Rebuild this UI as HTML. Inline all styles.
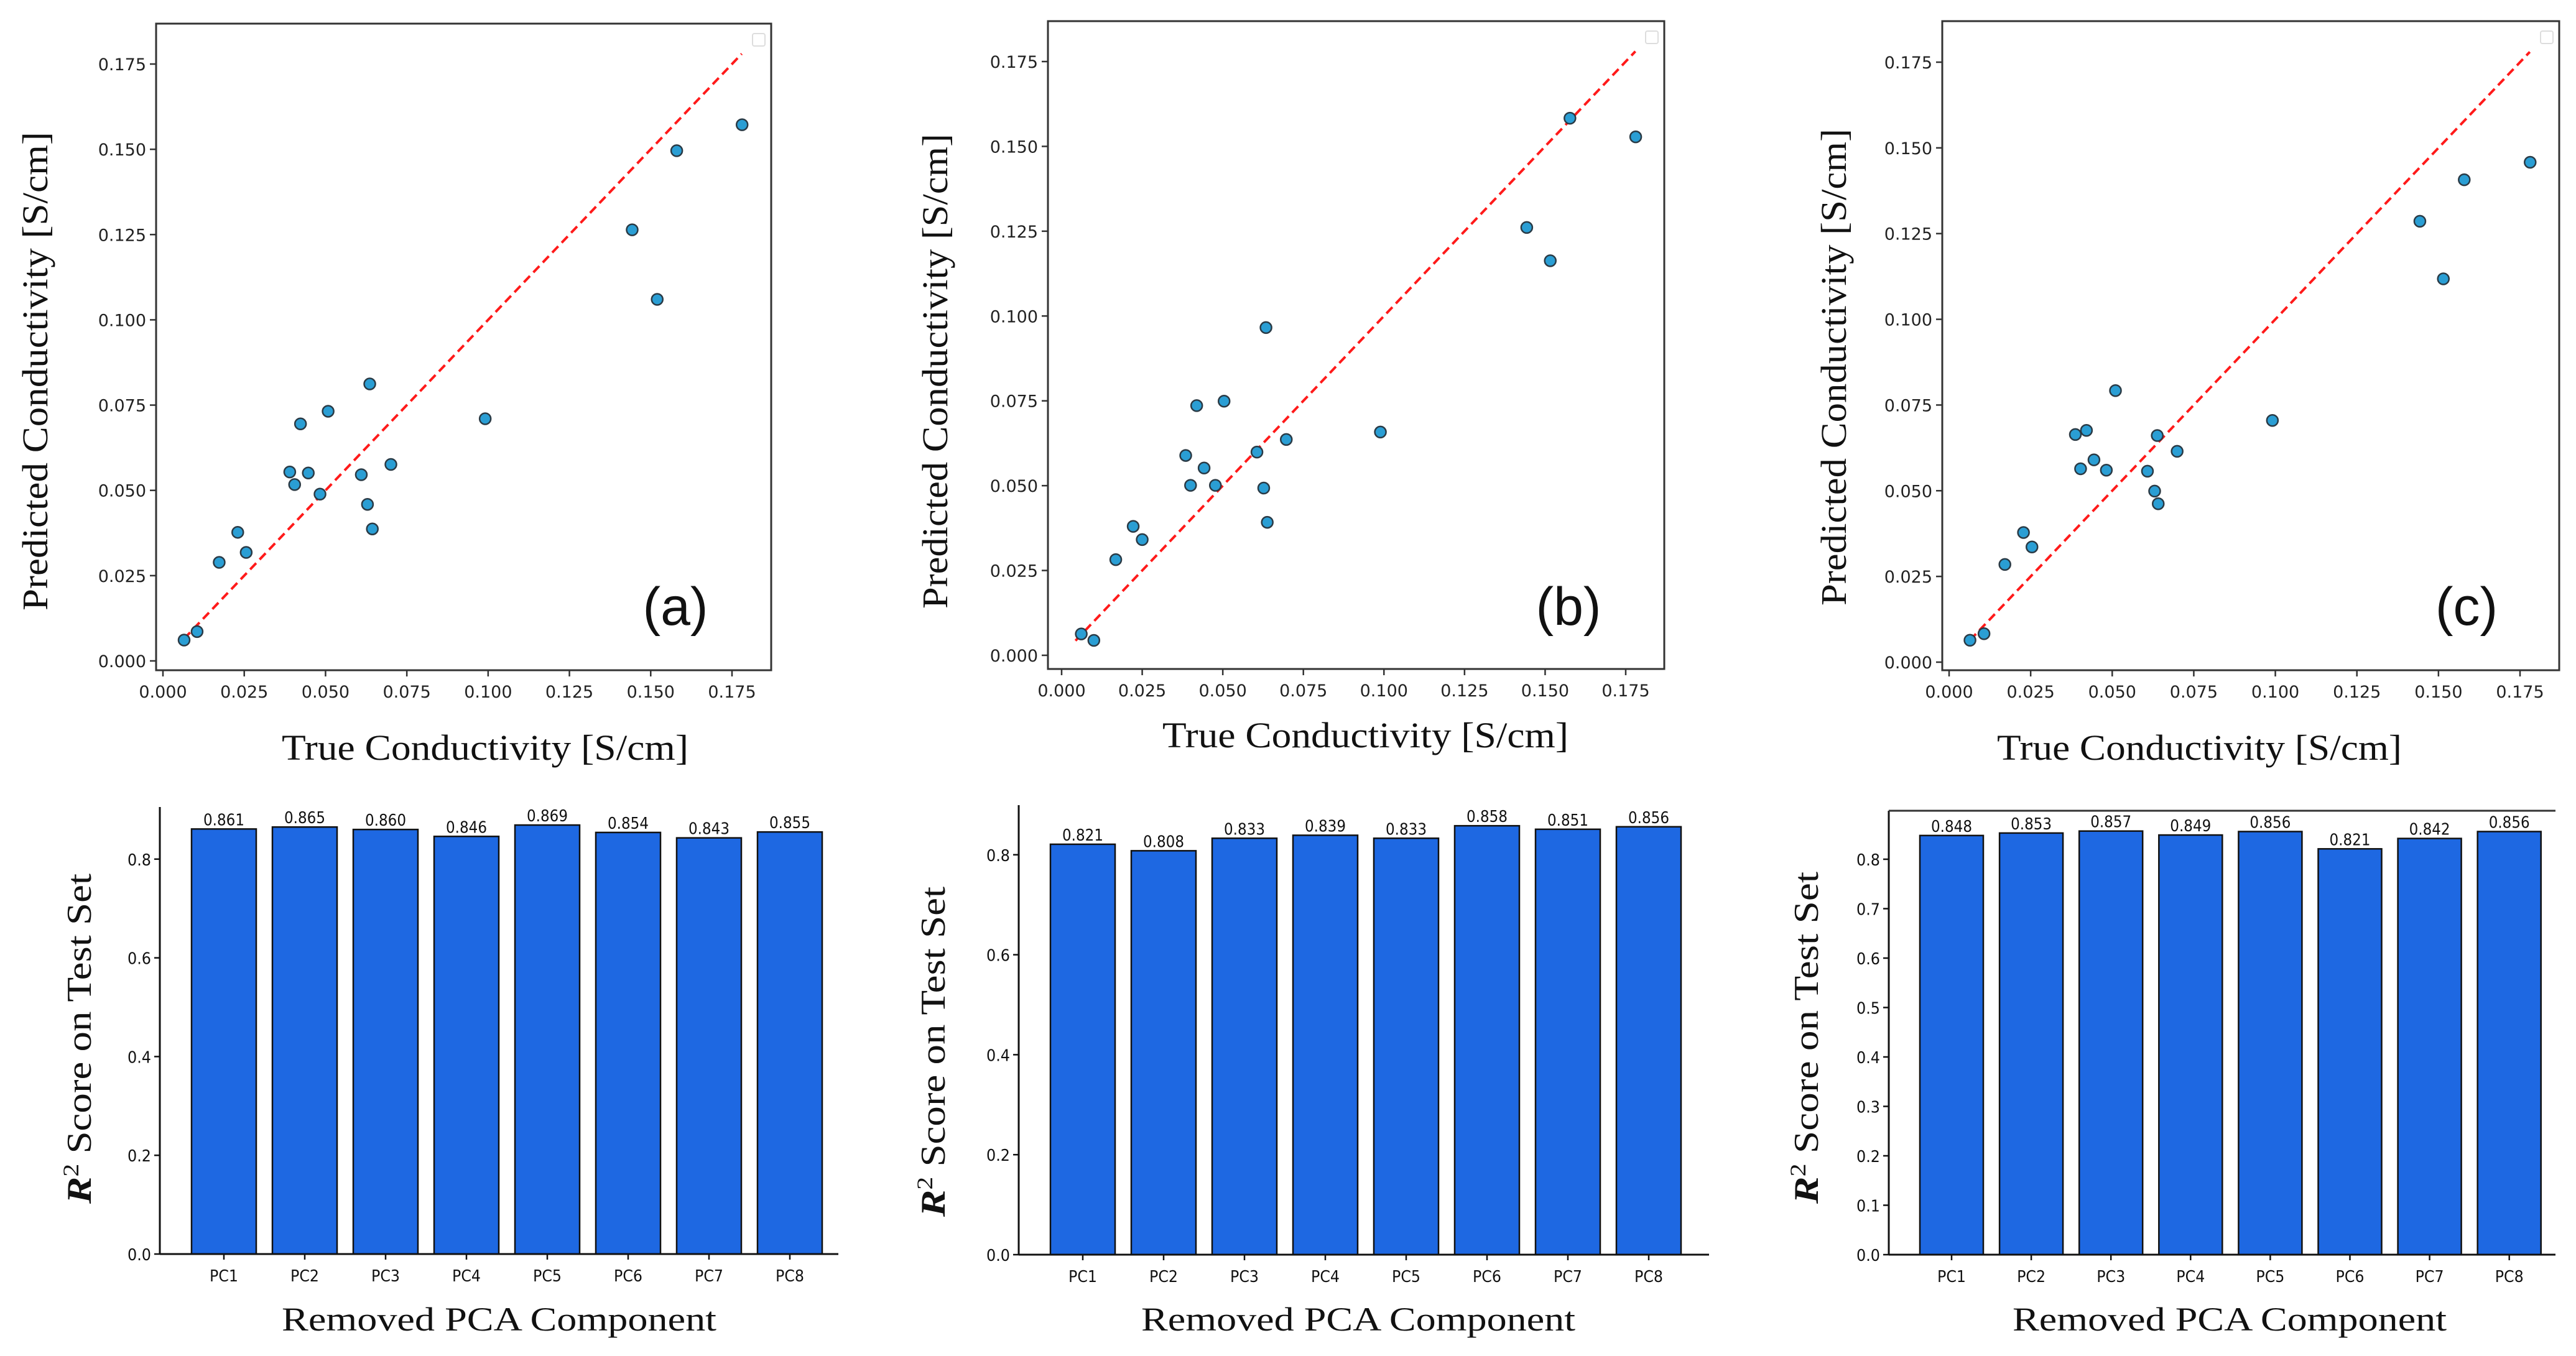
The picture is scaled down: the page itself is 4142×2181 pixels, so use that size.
<!DOCTYPE html>
<html><head><meta charset="utf-8">
<style>
html,body{margin:0;padding:0;background:#fff;}
svg{display:block;}
</style></head>
<body>
<svg id="fig" xmlns="http://www.w3.org/2000/svg" width="4142" height="2181" viewBox="0 0 4142 2181">
<rect x="0" y="0" width="4142" height="2181" fill="#fff"/>
</svg>
<script>
// ---- data ----
const aTrue = [0.0065,0.0105,0.0173,0.0230,0.0256,0.0390,0.0405,0.0423,0.0447,0.0483,0.0508,0.0610,0.0629,0.0636,0.0644,0.0701,0.0991,0.1443,0.1520,0.1580,0.1781];
const aPred = [0.0061,0.0086,0.0289,0.0377,0.0318,0.0554,0.0517,0.0695,0.0551,0.0489,0.0732,0.0546,0.0459,0.0812,0.0387,0.0576,0.0710,0.1264,0.1060,0.1496,0.1572];
const bTrue = [0.0061,0.0100,0.0168,0.0222,0.0250,0.0385,0.0400,0.0419,0.0442,0.0477,0.0504,0.0606,0.0627,0.0634,0.0638,0.0697,0.0989,0.1443,0.1516,0.1577,0.1781];
const bPred = [0.0063,0.0044,0.0282,0.0380,0.0341,0.0589,0.0501,0.0736,0.0552,0.0501,0.0749,0.0599,0.0493,0.0966,0.0392,0.0636,0.0658,0.1261,0.1163,0.1583,0.1528];
const cTrue = [0.0064,0.0107,0.0171,0.0228,0.0254,0.0387,0.0403,0.0421,0.0444,0.0482,0.0510,0.0608,0.0630,0.0638,0.0641,0.0699,0.0991,0.1443,0.1515,0.1579,0.1781];
const cPred = [0.0064,0.0083,0.0285,0.0378,0.0336,0.0664,0.0564,0.0676,0.0590,0.0560,0.0792,0.0557,0.0499,0.0661,0.0462,0.0615,0.0705,0.1286,0.1118,0.1407,0.1458];
const aLine = [0.0065,0.178];
const bLine = [0.0043,0.178];
const cLine = [0.0064,0.178];
const scatterTicks = [0,0.025,0.05,0.075,0.1,0.125,0.15,0.175];
const scatterTickLabels = ["0.000","0.025","0.050","0.075","0.100","0.125","0.150","0.175"];
const barCats = ["PC1","PC2","PC3","PC4","PC5","PC6","PC7","PC8"];
const aR2 = [0.861,0.865,0.860,0.846,0.869,0.854,0.843,0.855];
const bR2 = [0.821,0.808,0.833,0.839,0.833,0.858,0.851,0.856];
const cR2 = [0.848,0.853,0.857,0.849,0.856,0.821,0.842,0.856];
const barTicksAB = [0,0.2,0.4,0.6,0.8];
const barTickLabelsAB = ["0.0","0.2","0.4","0.6","0.8"];
const barTicksC = [0,0.1,0.2,0.3,0.4,0.5,0.6,0.7,0.8];
const barTickLabelsC = ["0.0","0.1","0.2","0.3","0.4","0.5","0.6","0.7","0.8"];

const NS = "http://www.w3.org/2000/svg";
const svg = document.getElementById('fig');
function mk(tag, attrs, parent, txt){
  const e = document.createElementNS(NS, tag);
  for (const k in attrs) e.setAttribute(k, attrs[k]);
  if (txt !== undefined) e.textContent = txt;
  (parent || svg).appendChild(e);
  return e;
}
const SANS = '"DejaVu Sans","Liberation Sans",sans-serif';
const SERIF = '"Liberation Serif","DejaVu Serif",serif';

function scatterPanel(P, xs, ys, line, letter){
  const g = mk('g', {});
  
  
  const X = v => P.x0 + (v/0.175)*(P.x175 - P.x0);
  const Y = v => P.y0 + (v/0.175)*(P.y175 - P.y0);
  const frame = mk('rect', {x:P.bx0, y:P.by0, width:P.bx1-P.bx0, height:P.by1-P.by0, fill:'none', stroke:'#333', 'stroke-width':3}, g);
  
  
  scatterTicks.forEach((t,i)=>{
    const x = X(t);
    mk('line',{x1:x,x2:x,y1:P.by1,y2:P.by1+10,stroke:'#333','stroke-width':2.5},g);
    const tl = mk('text',{x:x,y:P.by1+44,'text-anchor':'middle','font-family':SANS,'font-size':27,fill:'#222'},g,scatterTickLabels[i]);
    
    
    const y = Y(t);
    mk('line',{x1:P.bx0-10,x2:P.bx0,y1:y,y2:y,stroke:'#333','stroke-width':2.5},g);
    const yl = mk('text',{x:P.bx0-16,y:y+10,'text-anchor':'end','font-family':SANS,'font-size':27,fill:'#222'},g,scatterTickLabels[i]);
    
    
  });
  const ln = mk('line',{x1:X(line[0]),y1:Y(line[0]),x2:X(line[1]),y2:Y(line[1]),stroke:'#ff1a1a','stroke-width':4,'stroke-dasharray':'14 8'},g);
  
  
  xs.forEach((v,i)=>{
    const c = mk('circle',{cx:X(v),cy:Y(ys[i]),r:9,fill:'#2a9ed4',stroke:'#2a3a45','stroke-width':2.5},g);
    
    
  });
  const lg = mk('rect',{x:P.bx1-30,y:P.by0+16,width:20,height:20,rx:3,fill:'#fff',stroke:'#ddd','stroke-width':2},g);
  
  
  const xt = mk('text',{x:(P.xl0+P.xl1)/2,y:P.xly,'text-anchor':'middle','font-family':SERIF,'font-size':58,fill:'#111',textLength:P.xl1-P.xl0,lengthAdjust:'spacingAndGlyphs'},g,'True Conductivity [S/cm]');
  
  
  const yc = (P.yl0+P.yl1)/2;
  const yt = mk('text',{x:0,y:0,transform:`translate(${P.ylx+20},${yc}) rotate(-90)`,'text-anchor':'middle','font-family':SERIF,'font-size':58,fill:'#111',textLength:P.yl1-P.yl0,lengthAdjust:'spacingAndGlyphs'},g,'Predicted Conductivity [S/cm]');
  
  
  const pl = mk('text',{x:P.lx,y:P.ly,'text-anchor':'middle','font-family':'"Liberation Sans",sans-serif','font-size':86,fill:'#111'},g,'('+letter+')');
  
  
}

function barPanel(P, vals, ticks, tickLabels, letter){
  const g = mk('g', {});
  
  
  const Y = v => P.base - v*P.ppu;
  vals.forEach((v,i)=>{
    const cx = P.first + i*P.sp;
    const r = mk('rect',{x:cx-P.w/2,y:Y(v),width:P.w,height:P.base-Y(v),fill:'#1e68e2',stroke:'#111','stroke-width':2.5},g);
    
    
    const vt = mk('text',{x:cx,y:Y(v)-6,'text-anchor':'middle','font-family':SANS,'font-size':26,fill:'#111',textLength:66,lengthAdjust:'spacingAndGlyphs'},g,v.toFixed(3));
    
    
    mk('line',{x1:cx,x2:cx,y1:P.base,y2:P.base+9,stroke:'#111','stroke-width':2.5},g);
    const ct = mk('text',{x:cx,y:P.base+44,'text-anchor':'middle','font-family':SANS,'font-size':26,fill:'#111',textLength:46,lengthAdjust:'spacingAndGlyphs'},g,barCats[i]);
    
    
  });
  ticks.forEach((t,i)=>{
    const y = Y(t);
    mk('line',{x1:P.ax-9,x2:P.ax,y1:y,y2:y,stroke:'#111','stroke-width':2.5},g);
    const tl = mk('text',{x:P.ax-14,y:y+10,'text-anchor':'end','font-family':SANS,'font-size':26,fill:'#111',textLength:38,lengthAdjust:'spacingAndGlyphs'},g,tickLabels[i]);
    
    
  });
  const ya = mk('line',{x1:P.ax,x2:P.ax,y1:P.top,y2:P.base,stroke:'#111','stroke-width':3},g);
  
  
  const xa = mk('line',{x1:P.ax,x2:P.right,y1:P.base,y2:P.base,stroke:'#111','stroke-width':3},g);
  
  
  if (P.topLine){
    mk('line',{x1:P.ax,x2:P.right,y1:P.top,y2:P.top,stroke:'#333','stroke-width':3},g);
  }
  const xt = mk('text',{x:(P.xl0+P.xl1)/2,y:2140,'text-anchor':'middle','font-family':SERIF,'font-size':54,fill:'#111',textLength:P.xl1-P.xl0,lengthAdjust:'spacingAndGlyphs'},g,'Removed PCA Component');
  
  
  const yc = (P.yl0+P.yl1)/2;
  const yt = mk('text',{x:0,y:0,transform:`translate(${P.ylx+20},${yc}) rotate(-90)`,'text-anchor':'middle','font-family':SERIF,'font-size':56,fill:'#111',textLength:P.yl1-P.yl0,lengthAdjust:'spacingAndGlyphs'},g);
  
  
  mk('tspan',{'font-weight':'bold','font-style':'italic'},yt,'R');
  mk('tspan',{dy:-20,'font-size':36},yt,'2');
  mk('tspan',{dy:20},yt,' Score on Test Set');
}

scatterPanel({x0:262,x175:1177,y0:1063,y175:103,bx0:251,by0:38,bx1:1240,by1:1078,xl0:453,xl1:1107,xly:1222,yl0:212,yl1:982,ylx:56,lx:1086,ly:1005}, aTrue, aPred, aLine, 'a');
scatterPanel({x0:1707,x175:2614,y0:1054,y175:99,bx0:1685,by0:34,bx1:2676,by1:1076,xl0:1869,xl1:2522,xly:1202,yl0:215,yl1:979,ylx:1503,lx:2522,ly:1005}, bTrue, bPred, bLine, 'b');
scatterPanel({x0:3134,x175:4052,y0:1065,y175:100,bx0:3123,by0:34,bx1:4115,by1:1078,xl0:3211,xl1:3862,xly:1222,yl0:207,yl1:974,ylx:2948,lx:3966,ly:1005}, cTrue, cPred, cLine, 'c');

barPanel({ax:257,right:1348,base:2017,ppu:794,top:1298,first:360,sp:130,w:104,xl0:453,xl1:1152,yl0:1405,yl1:1936,ylx:126}, aR2, barTicksAB, barTickLabelsAB, 'a');
barPanel({ax:1638,right:2748,base:2018,ppu:804,top:1295,first:1741,sp:130,w:104,xl0:1835,xl1:2533,yl0:1426,yl1:1957,ylx:1499}, bR2, barTicksAB, barTickLabelsAB, 'b');
barPanel({ax:3037,right:4109,base:2018,ppu:795,top:1304,topLine:true,first:3138,sp:128.1,w:102,xl0:3236,xl1:3934,yl0:1402,yl1:1936,ylx:2903}, cR2, barTicksC, barTickLabelsC, 'c');
</script>
</body></html>
